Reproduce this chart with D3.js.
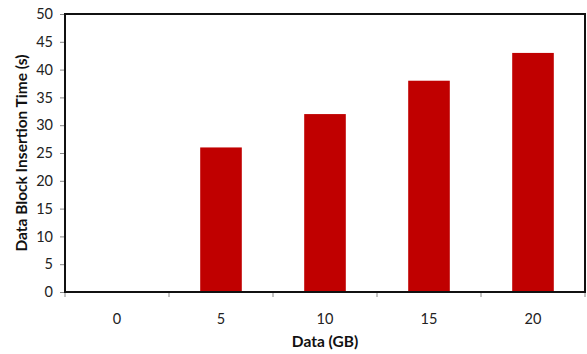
<!DOCTYPE html>
<html><head><meta charset="utf-8">
<script src="https://cdn.jsdelivr.net/npm/d3@7"></script>
<style>body{margin:0;background:#fff;} svg{display:block;}</style>
</head><body>
<svg id="c" width="587" height="354"></svg>
<script>
const categories = ["0", "5", "10", "15", "20"];
const values = [0, 26, 32, 38, 43];
const yTicks = [0, 5, 10, 15, 20, 25, 30, 35, 40, 45, 50];
const xTitle = "Data (GB)";
const yTitle = "Data Block Insertion Time (s)";

const svg = d3.select("#c");
const m = {left: 65, right: 2, top: 14, bottom: 62};
const W = 587, H = 354;
const x = d3.scaleBand().domain(categories).range([m.left, W - m.right]).padding(0);
const y = d3.scaleLinear().domain([0, 50]).range([H - m.bottom, m.top]);
const font = "Lato, 'Open Sans', sans-serif";

// bars
const bw = x.bandwidth() * 0.4;
svg.append("g").selectAll("rect").data(values).join("rect")
  .attr("x", (d, i) => x(categories[i]) + (x.bandwidth() - bw) / 2)
  .attr("width", bw)
  .attr("y", d => y(d))
  .attr("height", d => y(0) - y(d))
  .attr("fill", "#C00000");

// y axis
const ya = svg.append("g").attr("transform", `translate(${m.left},0)`)
  .call(d3.axisLeft(y).tickValues(yTicks).tickSize(5).tickPadding(7));
ya.select(".domain").remove();
ya.selectAll(".tick line").attr("stroke", "#888");
ya.selectAll("text").attr("font-family", font).attr("font-size", 14.5).attr("fill", "#222");

// x axis ticks at band boundaries
const bounds = categories.map(c => x(c)).concat([x(categories[categories.length - 1]) + x.bandwidth()]);
svg.append("g").selectAll("line").data(bounds).join("line")
  .attr("x1", d => d).attr("x2", d => d)
  .attr("y1", y(0)).attr("y2", y(0) + 5)
  .attr("stroke", "#888");
svg.append("g").selectAll("text").data(categories).join("text")
  .attr("x", d => x(d) + x.bandwidth() / 2)
  .attr("y", y(0) + 32)
  .attr("text-anchor", "middle")
  .attr("font-family", font).attr("font-size", 14.5).attr("fill", "#222")
  .text(d => d);

// frame
svg.append("rect")
  .attr("x", m.left).attr("y", m.top)
  .attr("width", W - m.right - m.left).attr("height", y(0) - m.top)
  .attr("fill", "none").attr("stroke", "#111").attr("stroke-width", 2);

// titles
svg.append("text")
  .attr("x", (m.left + W - m.right) / 2).attr("y", 347)
  .attr("text-anchor", "middle")
  .attr("font-family", font).attr("font-size", 15.5).attr("font-weight", "bold").attr("fill", "#111")
  .text(xTitle);
svg.append("text")
  .attr("transform", `translate(27,${(m.top + y(0)) / 2}) rotate(-90)`)
  .attr("text-anchor", "middle")
  .attr("font-family", font).attr("font-size", 15.5).attr("font-weight", "bold").attr("fill", "#111")
  .text(yTitle);
</script>
</body></html>
